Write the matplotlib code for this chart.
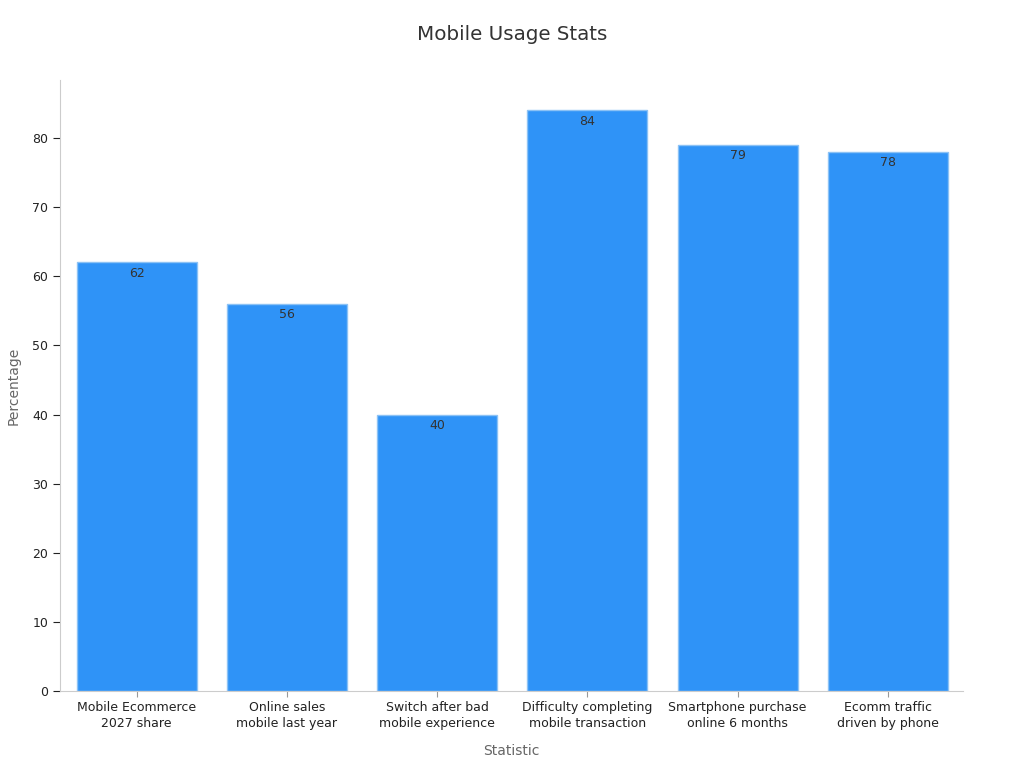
import matplotlib.pyplot as plt

categories = [
    "Mobile Ecommerce\n2027 share",
    "Online sales\nmobile last year",
    "Switch after bad\nmobile experience",
    "Difficulty completing\nmobile transaction",
    "Smartphone purchase\nonline 6 months",
    "Ecomm traffic\ndriven by phone",
]
values = [62, 56, 40, 84, 79, 78]
yticks = [0, 10, 20, 30, 40, 50, 60, 70, 80]

fig = plt.figure(figsize=(10.24, 7.68), dpi=100)
ax = fig.add_axes([0.0586, 0.1003, 0.8818, 0.7955])

x = list(range(len(categories)))
bars = ax.bar(x, values, width=0.8, color="#2f93f7", edgecolor="#8cc2f5", linewidth=1)

for b, v in zip(bars, values):
    ax.annotate(str(v), (b.get_x() + b.get_width() / 2, v), textcoords="offset points",
                xytext=(0, -3), ha="center", va="top", fontsize=9, color="#333333")

ax.set_xlim(-0.51, 5.5)
ax.set_ylim(0, 88.4)
ax.set_xticks(x)
ax.set_xticklabels(categories, fontsize=9, color="#222222", linespacing=1.25)
ax.set_yticks(yticks)
ax.tick_params(axis="y", labelsize=9, colors="#222222", length=5)
ax.tick_params(axis="x", length=4, color="#999999")

for s in ["top", "right"]:
    ax.spines[s].set_visible(False)
for s in ["left", "bottom"]:
    ax.spines[s].set_color("#cccccc")

ax.set_xlabel("Statistic", fontsize=10, color="#666666", labelpad=10)
ax.set_ylabel("Percentage", fontsize=10, color="#666666", labelpad=8)
fig.suptitle("Mobile Usage Stats", fontsize=14.3, color="#333333", y=0.968)

fig.savefig("out.png", dpi=100)
